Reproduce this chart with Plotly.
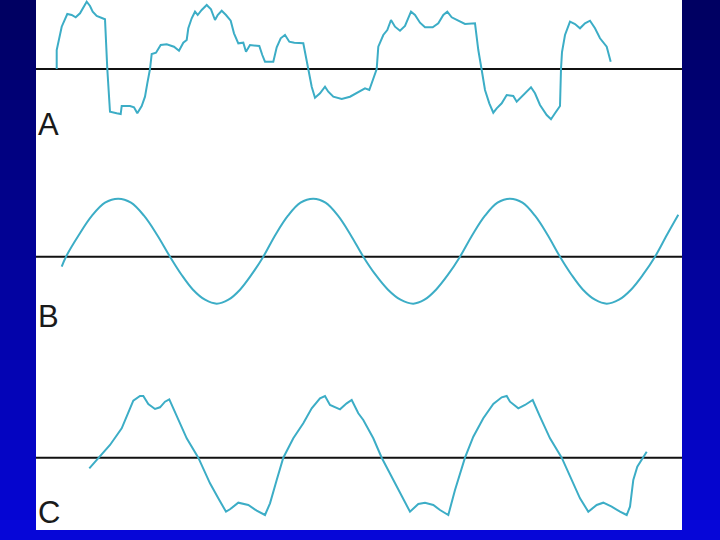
import plotly.graph_objects as go

# ---------------- data (x: sample position, y: amplitude, + up) ----------------
a_x = [20.7, 20.7, 25.7, 31.3, 35.7, 39.7, 44, 47.3, 50.7, 54, 56.7, 60.7, 64.7, 69, 71.3, 74, 80.7, 84.7,
       85.7, 94, 98, 101.3, 105.7, 109, 111.3, 114, 115.7, 120, 124.7, 130.7, 138, 143, 147.3, 150.7, 152.3,
       155.7, 159, 161.7, 165.7, 170.7, 175, 179, 181.7, 185.7, 190, 194.7, 198, 202.3, 207.3, 210, 214,
       223.3, 226.3, 229, 237.3, 240.7, 244.7, 249, 253.3, 258.3, 267.3, 272.3, 275.7, 279, 284, 289, 292.3,
       297.3, 305.7, 314, 322.3, 329, 333.3, 337.3, 340.7, 342.3, 347.3, 351.3, 355, 359, 364, 369, 375,
       379, 384, 389, 396.7, 402.3, 407.3, 411.3, 415.7, 422.3, 429, 439, 442.3, 445.7, 449, 453.3, 457.3,
       460.7, 465.7, 470.7, 477.3, 480.7, 485.7, 490.7, 495, 499, 504, 510.7, 515, 519, 524, 525, 526, 529,
       534, 539, 544, 549, 554, 559, 564, 570.7, 574.7]
a_y = [0, 19, 42.3, 55, 54, 51.7, 55.7, 61.7, 67.3, 63, 57.3, 53, 51.7, 49.7, 0, -42.7, -44.3, -45,
       -37, -37, -38.3, -44.3, -37, -27.7, -14.3, 0, 15, 16.3, 24, 24.7, 22.3, 18.3, 26.3, 29, 40.7,
       50.7, 57.3, 54, 59, 64, 59.7, 49, 54, 58.3, 54, 48.3, 35.7, 25.7, 26.3, 17.3, 24,
       23, 14, 7.3, 7.3, 21.7, 30.7, 34, 27.3, 26.3, 25.7, -1, -17.7, -28.7, -24.3, -17.7, -22.7,
       -27.7, -30, -27.7, -22.7, -19.3, -21, -9.3, 0, 22.3, 34, 39, 49, 42.3, 38.3, 43, 57.3,
       54, 46.3, 41.7, 41.7, 45.7, 54, 57.3, 51.7, 48.3, 45, 45.7, 19, -1, -21, -34.3, -43.7,
       -39.3, -34.3, -26, -27, -32.7, -27.7, -22.7, -18.3, -24.3, -36, -46, -50.3, -44.3, -37, 0, 17, 34,
       47.3, 45, 40.7, 45.7, 48.3, 40.7, 30.7, 22.3, 7.3]

b_x = [25.7, 30, 43, 56, 69, 82.3, 95, 108, 121, 134, 145.5, 157, 169, 180.7, 192.5, 204, 215.5,
       227.3, 239.5, 252, 264.5, 277.3, 289.5, 302, 314.5, 327.3, 339.5, 352, 364.5, 377.3, 388.5,
       400, 412, 424, 436.5, 449, 461.5, 474, 486.5, 499, 511.5, 524, 535.5, 547, 559, 570.7, 583,
       595, 607, 619, 631, 642.3]
b_y = [-10, 0, 22, 41, 54, 58, 54, 41, 22, 0, -18, -33, -43, -47, -43, -33, -18,
       0, 22, 41, 54, 58, 54, 41, 22, 0, -18, -33, -43, -47, -43,
       -33, -18, 0, 22, 41, 54, 58, 54, 41, 22, 0, -18, -33, -43, -47, -43,
       -33, -18, 0, 22, 42]

c_x = [53.3, 62.3, 74, 85.7, 90.7, 97.3, 104, 107.3, 112.3, 119, 124, 129, 133.3, 140.7, 150.7, 162.3,
       174, 182.3, 190, 194, 202.3, 212.3, 220.7, 229, 234, 240.7, 247.3, 257.3, 267.3, 275.7, 284, 289,
       294, 304, 310.7, 315.7, 322.3, 327.3, 337.3, 345.7, 357.3, 367.3, 374, 382.3, 389, 397.3, 404,
       412.3, 419, 429, 437.3, 447.3, 457.3, 465.7, 470.7, 474, 482.3, 489, 496.7, 504, 514, 525.7,
       535.7, 544, 552.3, 560.7, 567.3, 575.7, 584, 590.7, 594, 597.3, 601.3, 606.7, 610.7]
c_y = [-10.6, 0, 12.7, 29.4, 41, 57, 61.7, 61.7, 53.7, 48.7, 50.4, 56, 58.4, 41, 19.4, 0,
       -25.6, -40.6, -54, -51.6, -45, -47.3, -53, -57.3, -45.6, -22.3, 0, 19.4, 34.4, 49.4, 59.4, 61.7,
       52.7, 48.4, 54.4, 57.7, 44.4, 37.7, 19.4, 0, -22.3, -42.3, -54, -46.3, -45, -47.3, -52.3,
       -57.3, -32.3, 0, 21, 39.4, 53.7, 60.4, 61.7, 56, 49.4, 52.7, 57.7, 41, 19.4, 0,
       -22.3, -40.6, -54, -47.3, -45, -49, -54, -57.3, -49, -22.3, -9, 0, 6]

labels = ["A", "B", "C"]

# ---------------- figure ----------------
W, H = 720, 540
WAVE = "#3cadc6"

fig = go.Figure()
fig.add_trace(go.Scatter(x=a_x, y=a_y, mode="lines", line=dict(color=WAVE, width=2),
                         xaxis="x", yaxis="y", showlegend=False))
fig.add_trace(go.Scatter(x=b_x, y=b_y, mode="lines", line=dict(color=WAVE, width=2, shape="spline"),
                         xaxis="x2", yaxis="y2", showlegend=False))
fig.add_trace(go.Scatter(x=c_x, y=c_y, mode="lines", line=dict(color=WAVE, width=2),
                         xaxis="x3", yaxis="y3", showlegend=False))

shapes = []
# vertical blue gradient background
n = 27
for i in range(n):
    t = i / (n - 1)
    r = int(0 + 6 * t)
    g = int(0 + 6 * t)
    b = int(98 + 118 * t)
    shapes.append(dict(type="rect", xref="paper", yref="paper",
                       x0=0, x1=1, y0=1 - (i + 1) / n - 0.002, y1=1 - i / n,
                       fillcolor=f"rgb({r},{g},{b})", line=dict(width=0), layer="below"))
# white panel
shapes.append(dict(type="rect", xref="paper", yref="paper",
                   x0=36 / W, x1=682 / W, y0=1 - 530 / H, y1=1,
                   fillcolor="white", line=dict(width=0), layer="below"))
# zero lines
for xr, yr in [("x", "y"), ("x2", "y2"), ("x3", "y3")]:
    shapes.append(dict(type="line", xref=xr, yref=yr, x0=0, x1=646, y0=0, y1=0,
                       line=dict(color="#111111", width=2), layer="below"))

annotations = []
label_y = [-55, -59.3, -54.3]
for i, (lab, ly) in enumerate(zip(labels, label_y)):
    sfx = "" if i == 0 else str(i + 1)
    annotations.append(dict(text=lab, x=0, y=ly, xref="x" + sfx, yref="y" + sfx,
                            xanchor="left", yanchor="middle", showarrow=False,
                            font=dict(family="Liberation Sans", size=31, color="#1a1a1a")))

xdom = [36 / W, 682 / W]
ax = dict(visible=False, showgrid=False, zeroline=False, fixedrange=True)
fig.update_layout(
    width=W, height=H, margin=dict(l=0, r=0, t=0, b=0),
    paper_bgcolor="#000066", plot_bgcolor="rgba(0,0,0,0)",
    shapes=shapes, annotations=annotations, showlegend=False,
    xaxis=dict(ax, domain=xdom, range=[0, 646]),
    xaxis2=dict(ax, domain=xdom, range=[0, 646], anchor="y2"),
    xaxis3=dict(ax, domain=xdom, range=[0, 646], anchor="y3"),
    yaxis=dict(ax, domain=[1 - 180 / H, 1], range=[-111, 69]),
    yaxis2=dict(ax, domain=[1 - 360 / H, 1 - 180 / H], range=[-103.3, 76.7], anchor="x2"),
    yaxis3=dict(ax, domain=[1 - 530 / H, 1 - 360 / H], range=[-72.3, 97.7], anchor="x3"),
)

fig.write_html("out.html", config={"displayModeBar": False},
               post_script="document.body.style.margin='0';document.body.style.overflow='hidden';")
